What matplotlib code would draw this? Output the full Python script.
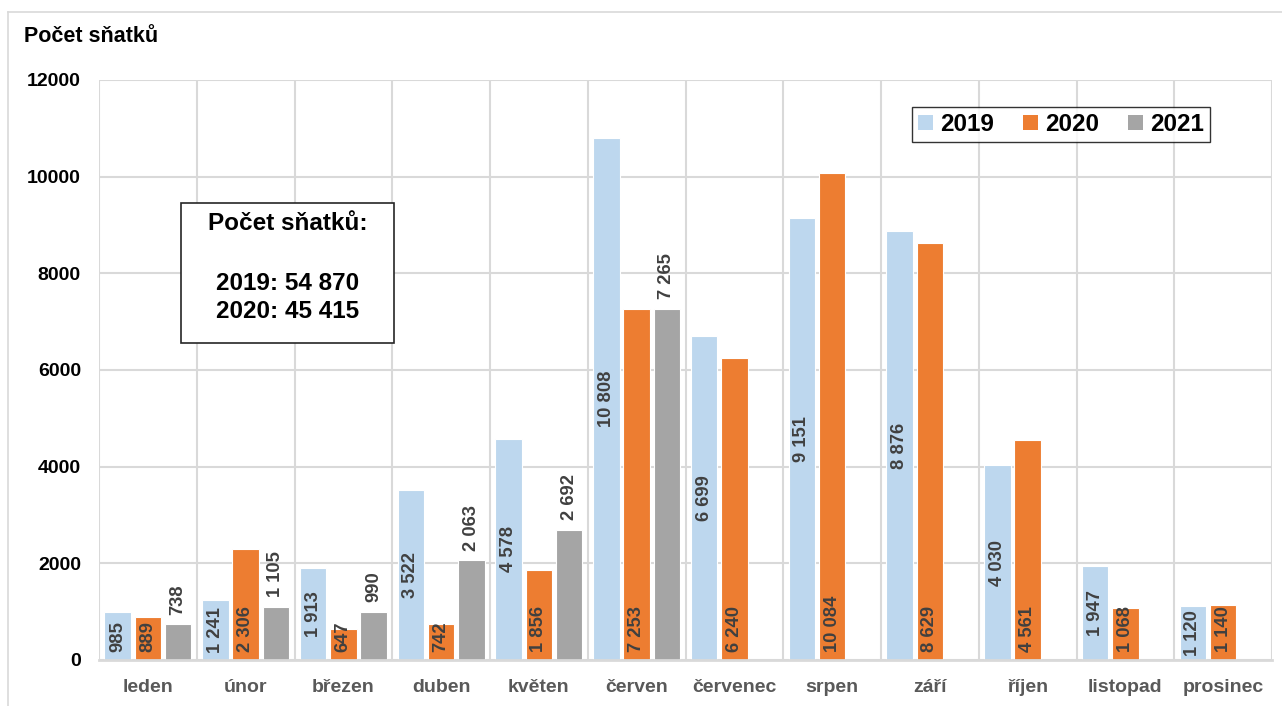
import matplotlib
matplotlib.use("Agg")
import matplotlib.pyplot as plt
from matplotlib.patches import Rectangle, Patch
from matplotlib.lines import Line2D
import numpy as np

plt.rcParams['font.family'] = ['Liberation Sans', 'DejaVu Sans']

months = ["leden", "únor", "březen", "duben", "květen", "červen", "červenec",
          "srpen", "září", "říjen", "listopad", "prosinec"]
v2019 = [985, 1241, 1913, 3522, 4578, 10808, 6699, 9151, 8876, 4030, 1947, 1120]
v2020 = [889, 2306, 647, 742, 1856, 7253, 6240, 10084, 8629, 4561, 1068, 1140]
v2021 = [738, 1105, 990, 2063, 2692, 7265]
series_names = ["2019", "2020", "2021"]
colors = ["#BDD7EE", "#ED7D31", "#A5A5A5"]
yticks = [0, 2000, 4000, 6000, 8000, 10000, 12000]
title = "Počet sňatků"
box_lines = ["Počet sňatků:", "2019: 54 870", "2020: 45 415"]

W, H = 1282, 706
fig = plt.figure(figsize=(W / 100, H / 100), dpi=100)
ax = fig.add_axes([99 / W, 1 - 660 / H, (1272 - 99) / W, (660 - 80) / H])

def fmt(v):
    return f"{v:,}".replace(",", " ")

x = np.arange(len(months))
width = 0.27
offsets = [-0.31, 0.0, 0.31]
data = [v2019, v2020, v2021]
lab_kw = dict(rotation=90, ha="center", fontsize=13.2, fontweight="bold",
              color="#404040", zorder=4, textcoords="offset points")
for i, (vals, col) in enumerate(zip(data, colors)):
    xs = x[:len(vals)] + offsets[i]
    bars = ax.bar(xs, vals, width=width, color=col, edgecolor="white",
                  linewidth=0.8, zorder=3)
    for b, v in zip(bars, vals):
        cx = b.get_x() + b.get_width() / 2
        if i == 0:
            # centered in bar
            ax.annotate(fmt(v), (cx, v / 2), xytext=(0, 0), va="center", **lab_kw)
        elif i == 1:
            # inside base
            ax.annotate(fmt(v), (cx, 0), xytext=(0, 6), va="bottom", **lab_kw)
        else:
            # outside end
            ax.annotate(fmt(v), (cx, v), xytext=(0, 7), va="bottom", **lab_kw)

ax.set_xlim(-0.5, len(months) - 0.5)
ax.set_ylim(0, 12000)
ax.set_yticks(yticks)
ax.set_yticklabels([str(t) for t in yticks], fontsize=14, fontweight="bold", color="black")
ax.set_xticks(x)
ax.set_xticklabels(months, fontsize=14, fontweight="bold", color="#595959")
ax.set_xticks(np.arange(-0.5, len(months), 1.0), minor=True)
ax.tick_params(axis="both", which="both", length=0)
ax.tick_params(axis="y", pad=13)
ax.tick_params(axis="x", pad=14)
ax.grid(axis="y", which="major", color="#D9D9D9", linewidth=1.5, zorder=0)
ax.grid(axis="x", which="minor", color="#D9D9D9", linewidth=1.5, zorder=0)
ax.grid(axis="x", which="major", visible=False)
for s in ["top", "right", "left"]:
    ax.spines[s].set_visible(False)
ax.spines["bottom"].set_color("#D9D9D9")
ax.spines["bottom"].set_linewidth(2)
ax.spines["bottom"].set_zorder(5)

# outer chart border (top & left)
fig.add_artist(Line2D([8 / W, 1.0], [1 - 12 / H, 1 - 12 / H], color="#D9D9D9", lw=1.2,
                      transform=fig.transFigure))
fig.add_artist(Line2D([8 / W, 8 / W], [0, 1 - 12 / H], color="#D9D9D9", lw=1.2,
                      transform=fig.transFigure))

fig.text(24 / W, 1 - 37 / H, title, fontsize=15.5, fontweight="bold", color="black",
         ha="left", va="center")

# legend
handles = [Patch(facecolor=c, edgecolor="none") for c in colors]
leg = fig.legend(handles, series_names, loc="upper left",
                 bbox_to_anchor=(912 / W, 1 - 107 / H), ncol=3,
                 prop={"weight": "bold", "size": 17.5}, frameon=True, fancybox=False,
                 handlelength=0.6, handleheight=0.6, handletextpad=0.3,
                 columnspacing=1.2, borderpad=0.25, borderaxespad=0)
leg.get_frame().set_edgecolor("black")
leg.get_frame().set_linewidth(1.0)

# text box
fig.add_artist(Rectangle((181 / W, 1 - 343 / H), (394 - 181) / W, (343 - 203) / H,
                         transform=fig.transFigure, facecolor="white",
                         edgecolor="#262626", linewidth=1.2, zorder=6))
cx = (181 + 394) / 2 / W
for txt, yy in zip(box_lines, [223, 283, 312]):
    fig.text(cx, 1 - yy / H, txt, ha="center", va="center", fontsize=17.5,
             fontweight="bold", color="black", zorder=7)

fig.savefig("out.png", dpi=100)
